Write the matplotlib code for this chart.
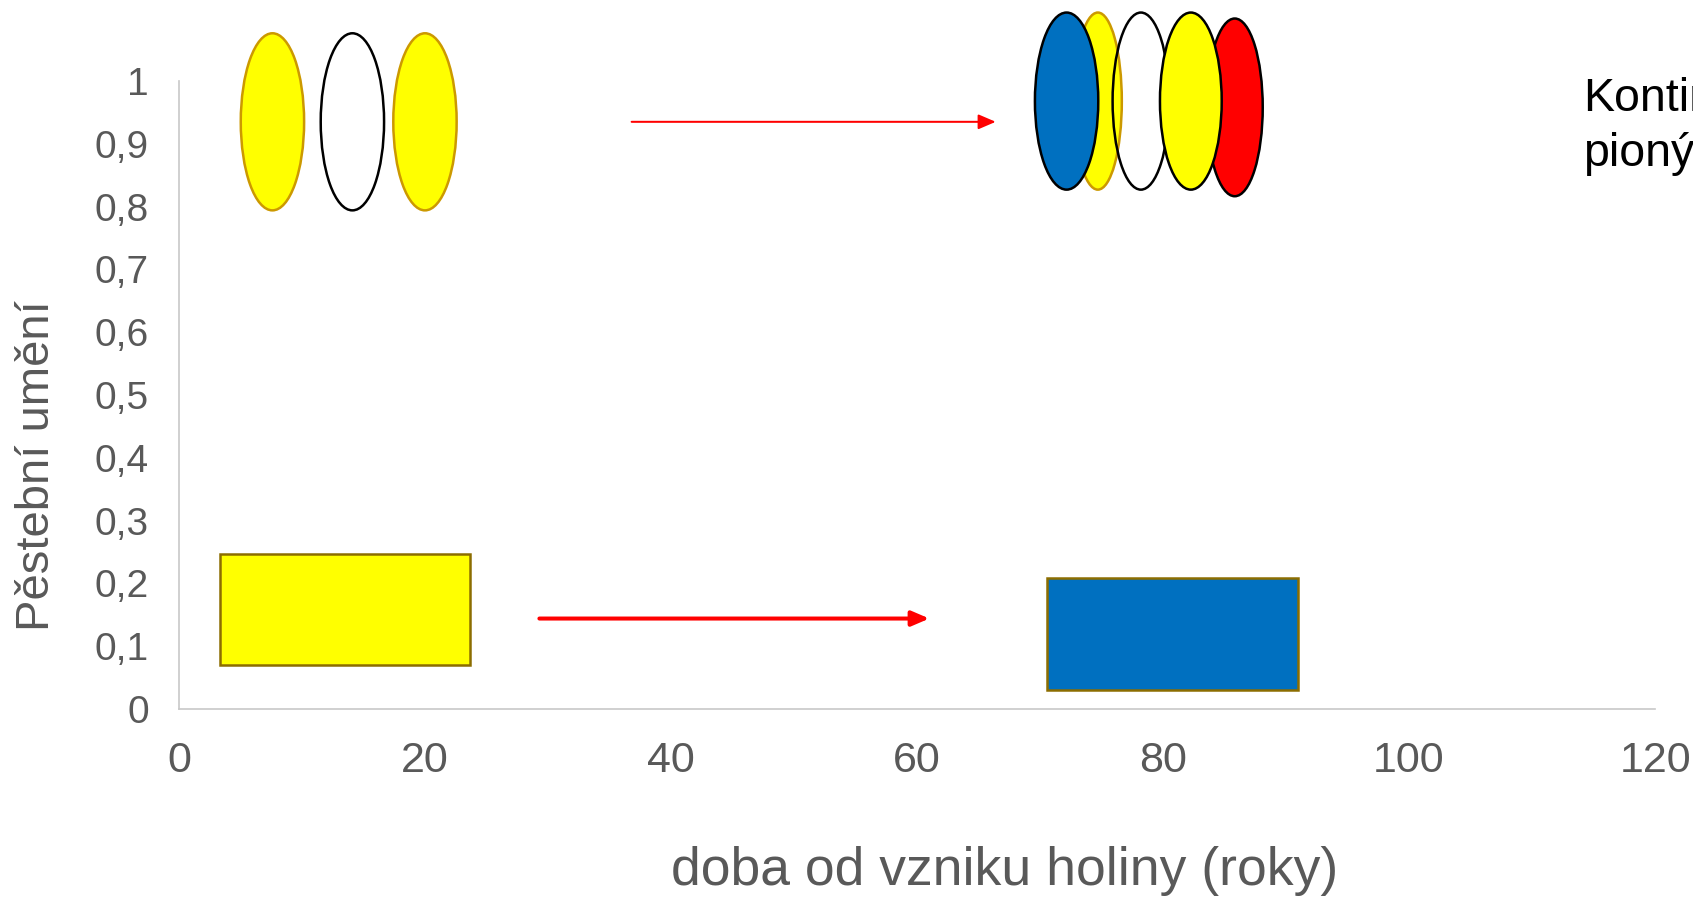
import matplotlib.pyplot as plt
from matplotlib.patches import Ellipse, Rectangle

plt.rcParams['font.family'] = ['Liberation Sans', 'DejaVu Sans']

GREY = '#595959'

# osy
x_ticks = [0, 20, 40, 60, 80, 100, 120]
y_ticks = [0, 0.1, 0.2, 0.3, 0.4, 0.5, 0.6, 0.7, 0.8, 0.9, 1]
y_labels = ['0', '0,1', '0,2', '0,3', '0,4', '0,5', '0,6', '0,7', '0,8', '0,9', '1']

# obdelniky dole (roky od-do, pestebni umeni od-do)
rect_x0 = [3.3, 70.6]
rect_x1 = [23.7, 91.0]
rect_y0 = [0.070, 0.031]
rect_y1 = [0.246, 0.208]
rect_colors = ['#FFFF00', '#0070C0']

# elipsy vlevo nahore
left_x = [7.6, 14.1, 20.0]
left_y = [0.935, 0.935, 0.935]
left_w = [5.15, 5.15, 5.15]
left_h = [0.282, 0.282, 0.282]
left_fill = ['#FFFF00', 'white', '#FFFF00']
left_edge = ['#CC9900', 'black', '#CC9900']

# elipsy vpravo nahore (v poradi kresleni)
right_x = [74.7, 72.16, 78.2, 85.83, 82.26]
right_y = [0.968, 0.968, 0.968, 0.958, 0.968]
right_w = [3.9, 5.15, 4.6, 4.55, 5.02]
right_h = [0.282, 0.282, 0.282, 0.283, 0.282]
right_fill = ['#FFFF00', '#0070C0', 'none', '#FF0000', '#FFFF00']
right_edge = ['#CC9900', 'black', 'black', 'black', 'black']

# sipky (x od, x do, y)
arrow_x0 = [36.8, 29.3]
arrow_x1 = [66.4, 61.0]
arrow_y = [0.935, 0.144]
arrow_lw = [1.45, 2.9]

fig = plt.figure(figsize=(16.93, 8.98), dpi=100)
ax = fig.add_axes([0.1057, 0.2105, 0.8719, 0.6993])
ax.set_xlim(0, 120)
ax.set_ylim(0, 1)

for s in ['top', 'right']:
    ax.spines[s].set_visible(False)
for s in ['left', 'bottom']:
    ax.spines[s].set_color('#C8C8C8')
    ax.spines[s].set_linewidth(1.2)

ax.set_xticks(x_ticks)
ax.set_xticklabels([str(t) for t in x_ticks])
ax.set_yticks(y_ticks)
ax.set_yticklabels(y_labels)
ax.tick_params(axis='x', length=0, pad=23, labelsize=31, labelcolor=GREY)
ax.tick_params(axis='y', length=0, pad=21.5, labelsize=28, labelcolor=GREY)

for x0, x1, y0, y1, c in zip(rect_x0, rect_x1, rect_y0, rect_y1, rect_colors):
    ax.add_patch(Rectangle((x0, y0), x1 - x0, y1 - y0, facecolor=c,
                           edgecolor='#8C6D00', lw=1.8))

for x, y, w, h, f, e in zip(left_x, left_y, left_w, left_h, left_fill, left_edge):
    ax.add_patch(Ellipse((x, y), w, h, facecolor=f, edgecolor=e, lw=1.8,
                         clip_on=False))

for x, y, w, h, f, e in zip(right_x, right_y, right_w, right_h, right_fill, right_edge):
    ax.add_patch(Ellipse((x, y), w, h, facecolor=f, edgecolor=e, lw=1.8,
                         clip_on=False))

for x0, x1, y, lw in zip(arrow_x0, arrow_x1, arrow_y, arrow_lw):
    ax.annotate('', xy=(x1, y), xytext=(x0, y),
                arrowprops=dict(arrowstyle='-|>,head_length=1.05,head_width=0.45',
                                mutation_scale=10, color='#FF0000', lw=lw,
                                shrinkA=0, shrinkB=0))

fig.text(0.5936, 0.030, 'doba od vzniku holiny (roky)', fontsize=38.5,
         color=GREY, ha='center', va='center')
fig.text(0.0217, 0.481, 'Pěstební umění', fontsize=34, color=GREY,
         rotation=90, ha='center', va='center')

fig.text(0.9349, 0.8767, 'Kontinuum', fontsize=33.5, color='black',
         ha='left', va='baseline')
fig.text(0.9349, 0.8151, 'pionýrů', fontsize=33.5, color='black',
         ha='left', va='baseline')

fig.savefig('out.png', dpi=100)
